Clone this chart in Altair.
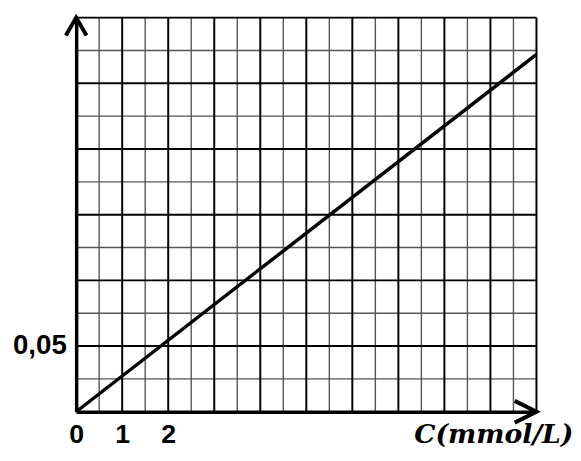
import altair as alt
import pandas as pd

# data
conc = [0, 10]            # C (mmol/L)
absorb = [0, 0.272]       # value on y axis
x_major = [1, 2, 3, 4, 5, 6, 7, 8, 9, 10]
x_minor = [0.5, 1.5, 2.5, 3.5, 4.5, 5.5, 6.5, 7.5, 8.5, 9.5]
y_major = [0.05, 0.10, 0.15, 0.20, 0.25, 0.30]
y_minor = [0.025, 0.075, 0.125, 0.175, 0.225, 0.275]
x_tick_labels = [0, 1, 2]
y_tick_labels = [0.05]
x_max = 10
y_max = 0.30

xs = alt.Scale(domain=[0, x_max], nice=False, zero=True)
ys = alt.Scale(domain=[0, y_max], nice=False, zero=True)

xaxis = alt.Axis(values=x_tick_labels, grid=False, ticks=False, domain=True,
                 domainColor="black", domainWidth=3.5, labelFont="Liberation Sans",
                 labelFontWeight="bold", labelFontSize=27, labelColor="black",
                 labelPadding=10, labelBaseline="top", labelFlush=False,
                 title="C(mmol/L)", titleFont="DejaVu Serif", titleFontStyle="italic",
                 titleFontWeight="bold", titleFontSize=27, titleColor="black",
                 titleAlign="right", titleAnchor="end", titleX=503, titleY=31,
                 titleBaseline="alphabetic", zindex=2)
yaxis = alt.Axis(values=y_tick_labels, grid=False, ticks=False, domain=True,
                 domainColor="black", domainWidth=3.5, labelFont="Liberation Sans",
                 labelFontWeight="bold", labelFontSize=28, labelColor="black",
                 labelPadding=10, labelExpr="replace(format(datum.value, '.2f'), '.', ',')",
                 title=None, zindex=2)

line_df = pd.DataFrame({"C": conc, "A": absorb})

def vrules(vals, color, w):
    return alt.Chart(pd.DataFrame({"x": vals})).mark_rule(color=color, strokeWidth=w).encode(
        x=alt.X("x:Q", scale=xs, axis=xaxis))

def hrules(vals, color, w):
    return alt.Chart(pd.DataFrame({"y": vals})).mark_rule(color=color, strokeWidth=w).encode(
        y=alt.Y("y:Q", scale=ys, axis=yaxis))

grid = (vrules(x_minor, "#555555", 1.4) + hrules(y_minor, "#555555", 1.4)
        + vrules(x_major, "#000000", 2) + hrules(y_major, "#000000", 2))

line = alt.Chart(line_df).mark_line(color="black", strokeWidth=3.5).encode(
    x=alt.X("C:Q", scale=xs, axis=xaxis),
    y=alt.Y("A:Q", scale=ys, axis=yaxis),
)

yarrow = alt.Chart(pd.DataFrame({"x": [0], "y": [y_max]})).mark_point(
    shape="M -0.58 1 L 0 0 L 0.58 1", size=1296, filled=False,
    color="black", strokeWidth=4, opacity=1).encode(
    x=alt.X("x:Q", scale=xs, axis=xaxis), y=alt.Y("y:Q", scale=ys, axis=yaxis))

xarrow = alt.Chart(pd.DataFrame({"x": [x_max], "y": [0]})).mark_point(
    shape="M -1 -0.5 L 0 0 L -1 0.5", size=1936, filled=False,
    color="black", strokeWidth=4, opacity=1).encode(
    x=alt.X("x:Q", scale=xs, axis=xaxis), y=alt.Y("y:Q", scale=ys, axis=yaxis))

chart = alt.layer(grid, line, yarrow, xarrow).properties(
    width=466, height=399,
    autosize=alt.AutoSizeParams(type="none"),
    padding={"left": 69, "top": 7, "right": 37, "bottom": 38},
).configure_view(stroke=None).configure(background="white")

chart.save("out.html", embed_options={"renderer": "svg", "actions": False})
